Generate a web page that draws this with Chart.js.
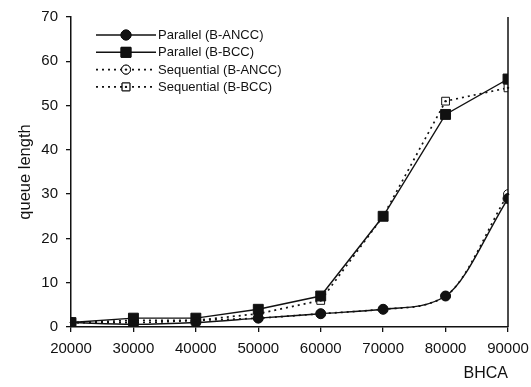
<!DOCTYPE html>
<html>
<head>
<meta charset="utf-8">
<script src="https://cdn.jsdelivr.net/npm/chart.js@4/dist/chart.umd.min.js"></script>
<style>
  html, body { margin: 0; padding: 0; background: #fff; }
  #wrap { width: 531px; height: 387px; }
</style>
</head>
<body>
<div id="wrap"><canvas id="queueChart" width="531" height="387"></canvas></div>
<script>
const bhca = [20000, 30000, 40000, 50000, 60000, 70000, 80000, 90000];
const parallelAncc = [1, 0.6, 1, 2, 3, 4, 7, 29];
const parallelBcc = [1, 2, 2, 4, 7, 25, 48, 56];
const sequentialAncc = [1, 1, 1.5, 2, 3, 4, 7, 30];
const sequentialBcc = [1, 1.5, 1.5, 3, 6, 25, 51, 54];
const seriesNames = ["Parallel (B-ANCC)", "Parallel (B-BCC)", "Sequential (B-ANCC)", "Sequential (B-BCC)"];
const yTicks = [0, 10, 20, 30, 40, 50, 60, 70];

const font = "Liberation Sans, Arial, sans-serif";
const toPoints = vals => vals.map((v, i) => ({ x: bhca[i], y: v }));

function marker(ctx, ds, x, y) {
	ctx.save();
	Chart.helpers.drawPoint(ctx, {
		pointStyle: ds.pointStyle,
		radius: ds.pointRadius,
		borderWidth: 1
	}, x, y);
	ctx.fillStyle = ds.pointBackgroundColor;
	ctx.strokeStyle = "#111";
	ctx.lineWidth = 1;
	ctx.fill();
	ctx.stroke();
	if (ds.pointBackgroundColor === "#fff") {
		ctx.beginPath();
		ctx.arc(x, y, 1.2, 0, Math.PI * 2);
		ctx.fillStyle = "#111";
		ctx.fill();
	}
	ctx.restore();
}

// little dot inside the open markers
const openDots = {
	id: "openDots",
	afterDatasetsDraw(chart) {
		const ctx = chart.ctx;
		chart.data.datasets.forEach((ds, i) => {
			if (ds.pointBackgroundColor !== "#fff") return;
			chart.getDatasetMeta(i).data.forEach(p => {
				ctx.beginPath();
				ctx.arc(p.x, p.y, 1.2, 0, Math.PI * 2);
				ctx.fillStyle = "#111";
				ctx.fill();
			});
		});
	}
};

// legend with line + marker, drawn inside the plot
const lineLegend = {
	id: "lineLegend",
	afterDraw(chart) {
		const ctx = chart.ctx;
		const x0 = 96, x1 = 156, dy = 17.3;
		let y = 35;
		chart.data.datasets.forEach(ds => {
			ctx.save();
			ctx.strokeStyle = "#111";
			ctx.lineWidth = ds.borderWidth;
			ctx.setLineDash(ds.borderDash || []);
			ctx.beginPath();
			ctx.moveTo(x0, y);
			ctx.lineTo(x1, y);
			ctx.stroke();
			ctx.setLineDash([]);
			ctx.restore();
			marker(ctx, ds, (x0 + x1) / 2, y);
			ctx.save();
			ctx.fillStyle = "#111";
			ctx.font = "13px " + font;
			ctx.textBaseline = "middle";
			ctx.fillText(ds.label, x1 + 2, y + 0.5);
			ctx.restore();
			y += dy;
		});
	}
};

// right frame line
const rightFrame = {
	id: "rightFrame",
	afterDraw(chart) {
		const a = chart.chartArea;
		const ctx = chart.ctx;
		ctx.save();
		ctx.strokeStyle = "#111";
		ctx.lineWidth = 1.5;
		ctx.beginPath();
		ctx.moveTo(a.right, a.top);
		ctx.lineTo(a.right, a.bottom);
		ctx.stroke();
		ctx.restore();
	}
};

new Chart(document.getElementById("queueChart"), {
	type: "line",
	data: {
		datasets: [
			{
				label: seriesNames[0],
				data: toPoints(parallelAncc),
				borderColor: "#111",
				borderWidth: 1.4,
				cubicInterpolationMode: "monotone",
				pointStyle: "circle",
				pointRadius: 5,
				pointBackgroundColor: "#111",
				pointBorderColor: "#111",
				pointBorderWidth: 1
			},
			{
				label: seriesNames[1],
				data: toPoints(parallelBcc),
				borderColor: "#111",
				borderWidth: 1.4,
				tension: 0,
				pointStyle: "rect",
				pointRadius: 7,
				pointBackgroundColor: "#111",
				pointBorderColor: "#111",
				pointBorderWidth: 1
			},
			{
				label: seriesNames[2],
				data: toPoints(sequentialAncc),
				borderColor: "#111",
				borderWidth: 1.7,
				borderDash: [2, 4],
				cubicInterpolationMode: "monotone",
				pointStyle: "circle",
				pointRadius: 4.5,
				pointBackgroundColor: "#fff",
				pointBorderColor: "#111",
				pointBorderWidth: 1
			},
			{
				label: seriesNames[3],
				data: toPoints(sequentialBcc),
				borderColor: "#111",
				borderWidth: 1.7,
				borderDash: [2, 4],
				tension: 0,
				pointStyle: "rect",
				pointRadius: 5.5,
				pointBackgroundColor: "#fff",
				pointBorderColor: "#111",
				pointBorderWidth: 1
			}
		]
	},
	options: {
		responsive: false,
		animation: false,
		layout: { padding: { top: 17, right: 0, left: 0, bottom: 0 } },
		plugins: {
			legend: { display: false },
			tooltip: { enabled: false }
		},
		scales: {
			x: {
				type: "linear",
				min: 20000,
				max: 90000,
				afterFit: s => {
					s.height = 60;
					s.paddingLeft = 0;
					s.paddingRight = 23;
				},
				ticks: {
					stepSize: 10000,
					color: "#111",
					font: { family: font, size: 15 },
					maxRotation: 0,
					padding: 8,
					callback: v => String(v)
				},
				grid: { drawOnChartArea: false, color: "#111", tickLength: 5, lineWidth: 1.3 },
				border: { color: "#111", width: 1.5 },
				title: {
					display: true,
					text: "BHCA",
					align: "end",
					color: "#111",
					font: { family: font, size: 16 },
					padding: { top: 0 }
				}
			},
			y: {
				min: 0,
				max: 70,
				afterFit: s => { s.width = 71; },
				afterBuildTicks: s => { s.ticks = yTicks.map(v => ({ value: v })); },
				ticks: {
					color: "#111",
					font: { family: font, size: 15 },
					padding: 8
				},
				grid: { drawOnChartArea: false, color: "#111", tickLength: 5, lineWidth: 1.3 },
				border: { color: "#111", width: 1.5 },
				title: {
					display: true,
					text: "queue length",
					color: "#111",
					font: { family: font, size: 16.5 },
					padding: { top: 16 }
				}
			}
		}
	},
	plugins: [openDots, lineLegend, rightFrame]
});
</script>
</body>
</html>
